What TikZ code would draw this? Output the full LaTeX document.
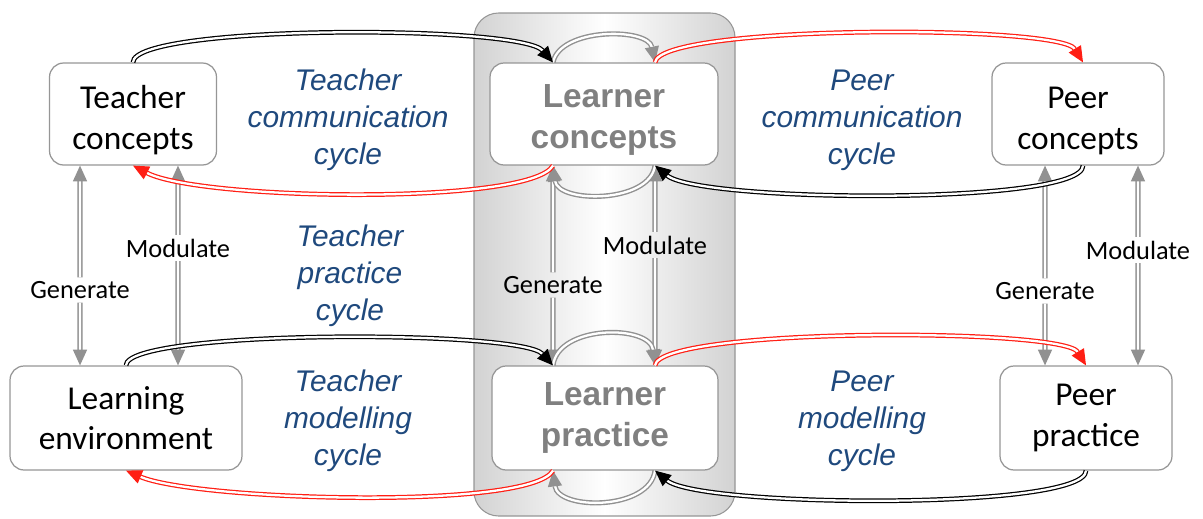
\documentclass[tikz,border=0pt]{standalone}
\usepackage{fontspec}
\setmainfont{Carlito}
\newfontfamily\arialfont{Liberation Sans}
\usetikzlibrary{arrows.meta}
\definecolor{cycleblue}{RGB}{31,73,125}
\definecolor{learnergray}{RGB}{128,128,128}
\definecolor{boxgray}{RGB}{150,150,150}
\definecolor{arrowgray}{RGB}{145,145,145}
\definecolor{linkred}{RGB}{255,30,20}

\begin{document}
\begin{tikzpicture}[x=0.02cm,y=-0.02cm]
	\tikzstyle{box}=[draw=boxgray,line width=0.7pt,fill=white,rounded corners=8pt,align=center,font=\fontsize{19}{23}\selectfont,minimum height=2.04cm]
	\tikzstyle{learner}=[box,text=learnergray,font=\arialfont\bfseries\fontsize{19}{23}\selectfont]
	\tikzstyle{toprow}=[text height=43pt]
	\tikzstyle{cycle}=[align=center,text=cycleblue,font=\arialfont\itshape\fontsize{17}{21}\selectfont]
	\tikzstyle{verb}=[inner sep=2pt,font=\fontsize{15}{18}\selectfont]
	\tikzstyle{link}=[line width=0.7pt,double=white,double distance=1.3pt,-{Triangle[length=9pt,width=8pt]}]
	\tikzstyle{half}=[link,draw=arrowgray,line width=0.8pt]
	\useasboundingbox (0,0) rectangle (1203,518);
	\shadedraw[draw=boxgray,line width=0.6pt,rounded corners=14pt,left color=gray!35,right color=gray!35,middle color=white] (474,13) rectangle (735,516);
	\node[box,toprow,minimum width=3.34cm] (1) at (133,114) {Teacher\\concepts};
	\node[learner,toprow,minimum width=4.56cm] (2) at (604,114) {Learner\\concepts};
	\node[box,toprow,minimum width=3.44cm] (3) at (1078,114) {Peer\\concepts};
	\node[box,minimum width=4.64cm,minimum height=2.08cm] (4) at (126,418) {Learning\\environment};
	\node[learner,minimum width=4.52cm,minimum height=2.08cm] (5) at (605,418) {Learner\\practice};
	\node[box,minimum width=3.44cm,minimum height=2.08cm] (6) at (1086,418) {Peer\\practice};
	\node[cycle] (tcc) at (348,120) {Teacher\\communication\\cycle};
	\node[cycle] (tpc) at (350,276) {Teacher\\practice\\cycle};
	\node[cycle] (tmc) at (348,421) {Teacher\\modelling\\cycle};
	\node[cycle] (pcc) at (862,120) {Peer\\communication\\cycle};
	\node[cycle] (pmc) at (862,421) {Peer\\modelling\\cycle};
	\node[verb] (g1) at (80,290) {Generate};
	\node[verb] (m1) at (178,248) {Modulate};
	\node[verb] (g2) at (553,285) {Generate};
	\node[verb] (m2) at (655,245) {Modulate};
	\node[verb] (g3) at (1045,291) {Generate};
	\node[verb] (m3) at (1138,250) {Modulate};
	\draw[half] (g1) -- ([xshift=-1.06cm]1.south);
	\draw[half] (g1) -- ([xshift=-0.92cm]4.north);
	\draw[half] (m1) -- ([xshift=0.9cm]1.south);
	\draw[half] (m1) -- ([xshift=1.04cm]4.north);
	\draw[half] (g2) -- ([xshift=-1.02cm]2.south);
	\draw[half] (g2) -- ([xshift=-1.04cm]5.north);
	\draw[half] (m2) -- ([xshift=1.02cm]2.south);
	\draw[half] (m2) -- ([xshift=1.0cm]5.north);
	\draw[half] (g3) -- ([xshift=-0.66cm]3.south);
	\draw[half] (g3) -- ([xshift=-0.82cm]6.north);
	\draw[half] (m3) -- ([xshift=1.2cm]3.south);
	\draw[half] (m3) -- ([xshift=1.04cm]6.north);
	\draw[half] ([xshift=-1.02cm]2.north) .. controls +(7,-35) and +(-7,-35) .. ([xshift=1.02cm]2.north);
	\draw[half] ([xshift=1.02cm]2.south) .. controls +(-5,38) and +(5,38) .. ([xshift=-1.02cm]2.south);
	\draw[half] ([xshift=-1.04cm]5.north) .. controls +(5,-41) and +(-5,-41) .. ([xshift=1.0cm]5.north);
	\draw[half] ([xshift=1.0cm]5.south) .. controls +(-5,40) and +(5,40) .. ([xshift=-1.04cm]5.south);
	\draw[link,draw=black] (1.north) .. controls +(0,-38) and +(-33,-38) .. ([xshift=-1.02cm]2.north);
	\draw[link,draw=linkred] ([xshift=-1.02cm]2.south) .. controls +(-23,40) and +(67,35) .. (1.south);
	\draw[link,draw=linkred] ([xshift=1.02cm]2.north) .. controls +(5,-38) and +(-23,-38) .. ([xshift=0.1cm]3.north);
	\draw[link,draw=black] ([xshift=0.1cm]3.south) .. controls +(0,40) and +(45,37) .. ([xshift=1.02cm]2.south);
	\draw[link,draw=black] (4.north) .. controls +(0,-36) and +(-33,-36) .. ([xshift=-1.04cm]5.north);
	\draw[link,draw=linkred] ([xshift=-1.04cm]5.south) .. controls +(-23,40) and +(70,30) .. (4.south);
	\draw[link,draw=linkred] ([xshift=1.0cm]5.north) .. controls +(5,-38) and +(-23,-38) .. (6.north);
	\draw[link,draw=black] (6.south) .. controls +(0,40) and +(45,37) .. ([xshift=1.0cm]5.south);
\end{tikzpicture}
\end{document}
